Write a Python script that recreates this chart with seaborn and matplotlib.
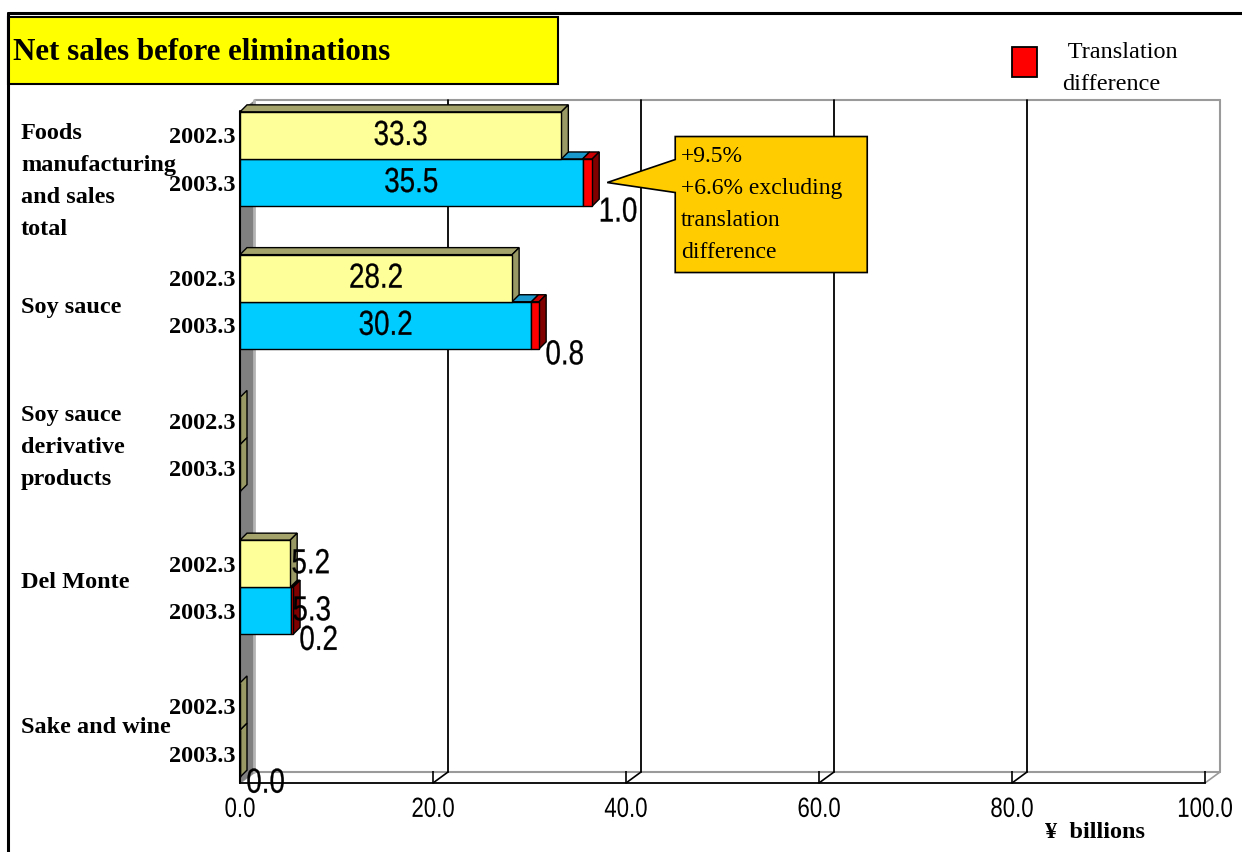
import numpy as np
import pandas as pd
import matplotlib
matplotlib.use("Agg")
import matplotlib.pyplot as plt
from matplotlib.patches import Polygon, Rectangle
from matplotlib.lines import Line2D
from matplotlib.patheffects import AbstractPathEffect
from matplotlib.transforms import Affine2D
from matplotlib import font_manager
import seaborn as sns

# ---- data (¥ billions) ----
categories = ["Foods\nmanufacturing\nand sales\ntotal", "Soy sauce",
              "Soy sauce\nderivative\nproducts", "Del Monte", "Sake and wine"]
periods = ["2002.3", "2003.3"]
sales_2002 = [33.3, 28.2, np.nan, 5.2, 0.0]
sales_2003 = [35.5, 30.2, np.nan, 5.3, 0.0]          # excluding translation difference
translation_diff = [1.0, 0.8, np.nan, 0.2, 0.0]
x_ticks = [0, 20, 40, 60, 80, 100]
callout_lines = ["+9.5%", "+6.6% excluding", "translation", "difference"]
title = "Net sales before eliminations"
unit_label = "¥  billions"
legend_lines = [" Translation", "difference"]

# ---- styling ----
W, H, DPI = 1242, 852, 100
YELLOW, YELLOW_TOP, YELLOW_SIDE = "#FFFF99", "#A3A36B", "#999966"
CYAN, CYAN_TOP, CYAN_SIDE = "#00CCFF", "#1A99CC", "#0088AA"
RED, RED_TOP, RED_SIDE = "#FF0000", "#CC0000", "#800000"
WALL, BACK, GRID = "#808080", "#9A9A9A", "#000000"
CALLOUT = "#FFCC00"
WALL_D = np.array([15.0, 11.0])   # depth of the plot box (px)
BAR_D = np.array([7.0, 7.0])      # depth of each bar (px)

sns.set_theme(style="white")
available = {f.name for f in font_manager.fontManager.ttflist}
HAS_NARROW = "Liberation Sans Narrow" in available
NARROW = "Liberation Sans Narrow" if HAS_NARROW else "Liberation Sans"
SERIF = ["Liberation Serif", "DejaVu Serif"]
plt.rcParams["font.family"] = SERIF
for key in ("text.color", "axes.labelcolor", "xtick.color", "ytick.color"):
    plt.rcParams[key] = "black"


class Condense(AbstractPathEffect):
    """Squeeze a text path horizontally about its left edge or centre."""

    def __init__(self, sx, anchor="center", stroke=0.0):
        super().__init__()
        self.sx = sx
        self.anchor = anchor
        self.stroke = stroke

    def draw_path(self, renderer, gc, tpath, affine, rgbFace=None):
        ext = tpath.get_extents(affine)
        cx = ext.x0 if self.anchor == "left" else 0.5 * (ext.x0 + ext.x1)
        aff = affine + Affine2D().translate(-cx, 0).scale(self.sx, 1).translate(cx, 0)
        if self.stroke > 0 and rgbFace is not None:
            gc0 = renderer.new_gc()
            gc0.copy_properties(gc)
            gc0.set_linewidth(self.stroke)
            gc0.set_foreground(rgbFace)
            renderer.draw_path(gc0, tpath, aff, rgbFace)
            gc0.restore()
        else:
            renderer.draw_path(gc, tpath, aff, rgbFace)


SQUEEZE = 1.0 if HAS_NARROW else 0.80


def narrow_fx(anchor="center", stroke=0.2):
    return [Condense(SQUEEZE, anchor, stroke)]


fig = plt.figure(figsize=(W / DPI, H / DPI), dpi=DPI)
fig.patch.set_facecolor("white")


def fx(p):
    return p / W


def fy(p):
    return 1 - p / H


# front plane of the 3-D plot box
ax = fig.add_axes([fx(240), fy(783), fx(1205) - fx(240), fy(111) - fy(783)])
ax.set_facecolor("none")

df = pd.DataFrame({
    "category": categories * 2,
    "period": [periods[0]] * len(categories) + [periods[1]] * len(categories),
    "value": sales_2002 + sales_2003,
})
df["bar"] = df["value"].fillna(0.0)

sns.barplot(data=df, x="bar", y="category", hue="period", order=categories,
            hue_order=periods, palette=[YELLOW, CYAN], saturation=1, width=0.66,
            edgecolor="black", linewidth=1.0, orient="h", errorbar=None,
            legend=False, ax=ax)

ax.set_xlim(0, 100)
ax.set_ylim(4.371, -0.336)
ax.set_xlabel("")
ax.set_ylabel("")
for s in ("top", "right", "left"):
    ax.spines[s].set_visible(False)
ax.spines["bottom"].set_color("black")
ax.spines["bottom"].set_linewidth(1.3)
ax.spines["bottom"].set_zorder(4)

# locate the bar patches by group and period
bars = {}
for p in ax.patches:
    yc = p.get_y() + p.get_height() / 2
    i = int(round(yc))
    k = 0 if yc < i else 1
    bars[(i, k)] = p

to_fig = fig.transFigure.inverted()


def dpx(x, y):
    return np.asarray(ax.transData.transform((x, y)), dtype=float)


def add_poly(points, **kw):
    pts = to_fig.transform(np.asarray(points, dtype=float))
    ax.add_patch(Polygon(pts, closed=True, transform=fig.transFigure, clip_on=False, **kw))


def add_seg(p0, p1, **kw):
    pts = to_fig.transform(np.asarray([p0, p1], dtype=float))
    ax.add_line(Line2D(pts[:, 0], pts[:, 1], transform=fig.transFigure, clip_on=False, **kw))


y_bot, y_top = ax.get_ylim()

# left wall
fl_top, fl_bot = dpx(0, y_top), dpx(0, y_bot)
add_poly([fl_top, fl_bot, fl_bot + WALL_D, fl_top + WALL_D], facecolor=WALL,
         edgecolor="none", zorder=0.5)
add_seg(fl_top + WALL_D + [-1.5, 0], fl_bot + WALL_D + [-1.5, 0], color="#B4B4B4", lw=2, zorder=0.6)
add_seg(fl_top, fl_bot, color="black", lw=1.5, zorder=0.7)

# back wall, gridlines and floor
add_seg(dpx(0, y_top) + WALL_D, dpx(100, y_top) + WALL_D, color=BACK, lw=1.5, zorder=0.4)
add_seg(dpx(0, y_bot) + WALL_D, dpx(100, y_bot) + WALL_D, color=BACK, lw=1.5, zorder=0.4)
for xv in x_ticks:
    b0, b1 = dpx(xv, y_bot) + WALL_D, dpx(xv, y_top) + WALL_D
    col = GRID if 0 < xv < 100 else BACK
    if xv > 0:
        add_seg(b0, b1, color=col, lw=1.3 if col == GRID else 1.5, zorder=0.45)
    add_seg(dpx(xv, y_bot), b0, color=col if xv < 100 else BACK, lw=1.2, zorder=0.45)

# 3-D faces of the bars
for i in range(len(categories)):
    for k in (1, 0):
        p = bars[(i, k)]
        y0 = p.get_y()
        y1 = y0 + p.get_height()
        z = 2.0 + (1.0 - k) + 0.1 * i
        if k == 0:
            v = np.nan_to_num(sales_2002[i])
            segs = [(0.0, v, YELLOW_TOP, YELLOW_SIDE)]
        else:
            v = np.nan_to_num(sales_2003[i])
            t = np.nan_to_num(translation_diff[i])
            segs = [(0.0, v, CYAN_TOP, CYAN_SIDE)]
            if not np.isnan(translation_diff[i]):
                rb = ax.barh(y0 + p.get_height() / 2, t, left=v, height=p.get_height(),
                             color=RED, edgecolor="black", linewidth=1.0)
                rb[0].set_zorder(z + 0.5)
                segs.append((v, v + t, RED_TOP, RED_SIDE))
        p.set_zorder(z + 0.5)
        end = segs[-1][1]
        if end <= 0:
            a, b = dpx(0, y0), dpx(0, y1)
            add_poly([a, b, b + BAR_D, a + BAR_D], facecolor=YELLOW_SIDE,
                     edgecolor="black", lw=1.0, zorder=z)
            continue
        for a_, b_, top_c, _ in segs:
            if b_ - a_ <= 0:
                continue
            a, b = dpx(a_, y0), dpx(b_, y0)
            add_poly([a, b, b + BAR_D, a + BAR_D], facecolor=top_c,
                     edgecolor="black", lw=1.0, zorder=z)
        side_c = [s for s in segs if s[1] - s[0] > 0][-1][3]
        a, b = dpx(end, y0), dpx(end, y1)
        add_poly([a, b, b + BAR_D, a + BAR_D], facecolor=side_c,
                 edgecolor="black", lw=1.0, zorder=z)

# value labels
for (i, k), p in bars.items():
    v = (sales_2002 if k == 0 else sales_2003)[i]
    if np.isnan(v) or v <= 0:
        continue
    yc = p.get_y() + p.get_height() / 2
    if v >= 10:
        ax.text(v / 2, yc, f"{v:.1f}", ha="center", va="center", fontsize=25,
                family=NARROW, color="black", zorder=8, path_effects=narrow_fx())
    else:
        ax.annotate(f"{v:.1f}", xy=(v, yc), xytext=(1, 0), textcoords="offset pixels",
                    ha="left", va="center", fontsize=25, family=NARROW, zorder=8,
                    path_effects=narrow_fx("left"))

for i, t in enumerate(translation_diff):
    if np.isnan(t):
        continue
    p = bars[(i, 1)]
    end = np.nan_to_num(sales_2003[i]) + t
    ax.annotate(f"{t:.1f}", xy=(end, p.get_y() + p.get_height()), xytext=(6, -6),
                textcoords="offset pixels", ha="left", va="center", fontsize=25,
                family=NARROW, zorder=8, annotation_clip=False,
                path_effects=narrow_fx("left"))

# callout on the foods total
p = bars[(0, 1)]
tip = dpx(sales_2003[0] + translation_diff[0], p.get_y() + p.get_height() / 2) + [15, 0]
L, R = tip[0] + 68, tip[0] + 260
top, bot = tip[1] + 46, tip[1] - 90
add_poly([(L, top), (R, top), (R, bot), (L, bot), (L, tip[1] - 10), tip, (L, tip[1] + 23)],
         facecolor=CALLOUT, edgecolor="black", lw=1.2, zorder=9)
for n, line in enumerate(callout_lines):
    pos = to_fig.transform((L + 6, top - 20 - 32 * n))
    ax.text(pos[0], pos[1], line, transform=fig.transFigure, ha="left", va="center",
            fontsize=17, color="black", zorder=10)

# axis ticks and labels
ax.set_xticks(x_ticks)
ax.set_xticklabels([f"{v:.1f}" for v in x_ticks])
ax.tick_params(axis="x", direction="in", length=8.6, width=1.2, colors="black",
               pad=10, labelsize=20, bottom=True)
for lbl in ax.get_xticklabels():
    lbl.set_family(NARROW)
    lbl.set_path_effects(narrow_fx(stroke=0.0))

ytick_pos, ytick_lab = [], []
for i in range(len(categories)):
    for k in (0, 1):
        p = bars[(i, k)]
        ytick_pos.append(p.get_y() + p.get_height() / 2)
        ytick_lab.append(periods[k])
ax.set_yticks(ytick_pos)
ax.set_yticklabels(ytick_lab, fontsize=17.5, fontweight="bold")
ax.tick_params(axis="y", length=0, pad=3.6)

# group names, one text per line
px_per_unit = dpx(0, 0)[1] - dpx(0, 1)[1]
nudge_px = [23, 6, 3, -5, -3]
for i, cat in enumerate(categories):
    lines = cat.split("\n")
    for n, line in enumerate(lines):
        yline = i + (nudge_px[i] + 32 * (n - (len(lines) - 1) / 2)) / px_per_unit
        ax.text(-0.227, yline, line, transform=ax.get_yaxis_transform(), ha="left",
                va="center", fontsize=17.5, fontweight="bold", zorder=8)

# frame, title box, legend and unit
fig.add_artist(Line2D([fx(8), 1], [fy(13), fy(13)], color="black", lw=2.2,
                      transform=fig.transFigure))
fig.add_artist(Line2D([fx(8), fx(8)], [fy(13), 0], color="black", lw=2.2,
                      transform=fig.transFigure))
fig.add_artist(Rectangle((fx(8), fy(84)), fx(558) - fx(8), fy(17) - fy(84),
                         facecolor="#FFFF00", edgecolor="black", lw=1.5,
                         transform=fig.transFigure))
fig.text(fx(13), fy(52), title, ha="left", va="center", fontsize=22.3,
         fontweight="bold", color="black")

fig.add_artist(Rectangle((fx(1012), fy(77)), 25 / W, 30 / H, facecolor=RED,
                         edgecolor="black", lw=1.3, transform=fig.transFigure))
for n, line in enumerate(legend_lines):
    fig.text(fx(1062), fy(52 + 32 * n), line, ha="left", va="center", fontsize=17.5)

fig.text(fx(1045), fy(832), unit_label, ha="left", va="center", fontsize=17.5,
         fontweight="bold")

fig.savefig("out.png", dpi=DPI)
